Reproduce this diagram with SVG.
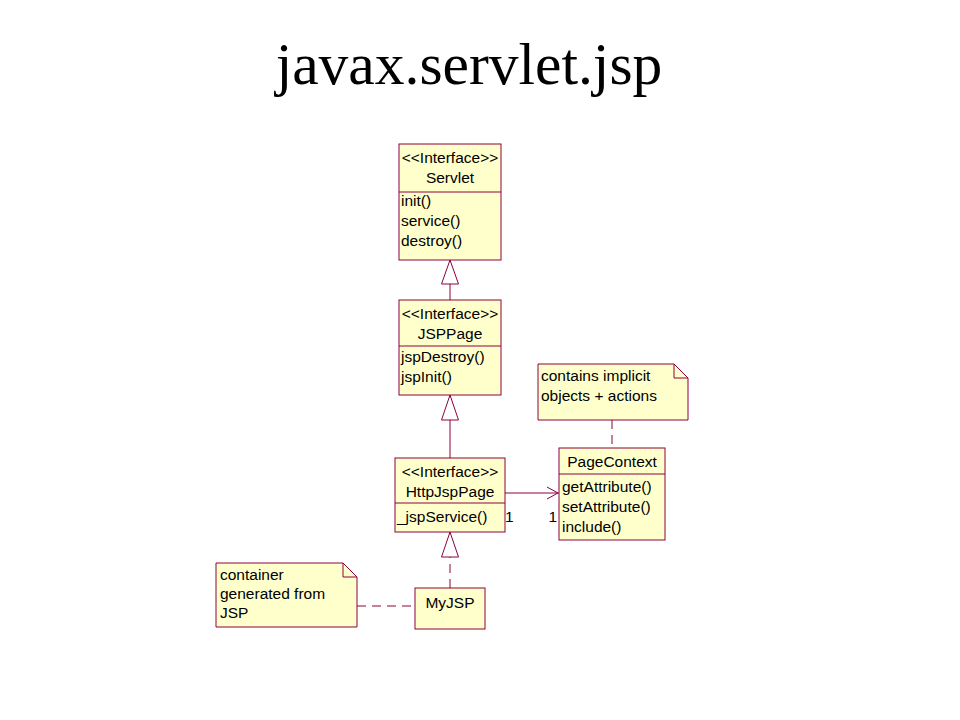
<svg xmlns="http://www.w3.org/2000/svg" width="960" height="720" viewBox="0 0 960 720">
<style>
.box{fill:#FFFFCC;stroke:#8C0040;stroke-width:1}
.ln{fill:none;stroke:#8C0040;stroke-width:1}
.dash{fill:none;stroke:#8C0040;stroke-width:1;stroke-dasharray:9,6}
.tri{fill:#FFFFFF;stroke:#8C0040;stroke-width:1}
.t{font-family:"Liberation Sans",Arial,sans-serif;font-size:15.5px;fill:#000}
.c{text-anchor:middle}
.title{font-family:"Liberation Serif","Times New Roman",serif;font-size:59.5px;fill:#000;text-anchor:middle}
</style>
<rect width="960" height="720" fill="#FFFFFF"/>
<text class="title" x="469" y="84">javax.servlet.jsp</text>

<g id="connectors">
<line class="ln" x1="450" y1="300" x2="450" y2="284"/>
<polygon class="tri" points="450,260 441.5,284 458.5,284"/>
<line class="ln" x1="450" y1="458" x2="450" y2="420"/>
<polygon class="tri" points="450,395 441.5,420 458.5,420"/>
<line class="dash" x1="450" y1="588" x2="450" y2="557"/>
<polygon class="tri" points="450,532 441.5,557 458.5,557"/>
<line class="ln" x1="505" y1="493" x2="559" y2="493"/>
<polyline class="ln" points="547,487 558,493 547,499"/>
<text class="t" x="505" y="522">1</text>
<text class="t" x="557" y="522" text-anchor="end">1</text>
<line class="dash" x1="612" y1="420" x2="612" y2="448"/>
<line class="dash" x1="357" y1="606" x2="415" y2="606"/>
</g>

<g id="servlet">
<rect class="box" x="399" y="144" width="102" height="116"/>
<line class="ln" x1="399" y1="192" x2="501" y2="192"/>
<text class="t c" x="450" y="163">&lt;&lt;Interface&gt;&gt;</text>
<text class="t c" x="450" y="183">Servlet</text>
<text class="t" x="401" y="206">init()</text>
<text class="t" x="401" y="226">service()</text>
<text class="t" x="401" y="246">destroy()</text>
</g>

<g id="jsppage">
<rect class="box" x="399" y="300" width="102" height="95"/>
<line class="ln" x1="399" y1="346" x2="501" y2="346"/>
<text class="t c" x="450" y="319">&lt;&lt;Interface&gt;&gt;</text>
<text class="t c" x="450" y="339">JSPPage</text>
<text class="t" x="401" y="362">jspDestroy()</text>
<text class="t" x="401" y="382">jspInit()</text>
</g>

<g id="httpjsppage">
<rect class="box" x="395" y="458" width="110" height="74"/>
<line class="ln" x1="395" y1="503" x2="505" y2="503"/>
<text class="t c" x="450" y="477">&lt;&lt;Interface&gt;&gt;</text>
<text class="t c" x="450" y="497">HttpJspPage</text>
<text class="t" x="397" y="522">_jspService()</text>
</g>

<g id="pagecontext">
<rect class="box" x="559" y="448" width="106" height="92"/>
<line class="ln" x1="559" y1="474" x2="665" y2="474"/>
<text class="t c" x="612" y="467">PageContext</text>
<text class="t" x="562" y="492">getAttribute()</text>
<text class="t" x="562" y="512">setAttribute()</text>
<text class="t" x="562" y="532">include()</text>
</g>

<g id="myjsp">
<rect class="box" x="415" y="588" width="70" height="41"/>
<text class="t c" x="450" y="608">MyJSP</text>
</g>

<g id="note-pagecontext">
<path class="box" d="M538,364 H674 L688,378 V420 H538 Z"/>
<path class="ln" d="M674,364 V378 H688"/>
<text class="t" x="541" y="381">contains implicit</text>
<text class="t" x="541" y="401">objects + actions</text>
</g>

<g id="note-myjsp">
<path class="box" d="M216,563 H343 L357,577 V627 H216 Z"/>
<path class="ln" d="M343,563 V577 H357"/>
<text class="t" x="220" y="580">container</text>
<text class="t" x="220" y="599">generated from</text>
<text class="t" x="220" y="618">JSP</text>
</g>
</svg>
